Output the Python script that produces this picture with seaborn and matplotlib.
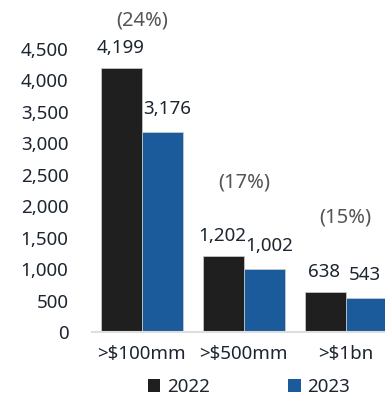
import matplotlib
matplotlib.use("Agg")
import matplotlib.pyplot as plt
import seaborn as sns
import pandas as pd
from matplotlib.patches import Patch

# Deal counts by size threshold
categories = [">$100mm", ">$500mm", ">$1bn"]
years = ["2022", "2023"]
values_2022 = [4199, 1202, 638]
values_2023 = [3176, 1002, 543]
change_labels = ["(24%)", "(17%)", "(15%)"]
y_ticks = [0, 500, 1000, 1500, 2000, 2500, 3000, 3500, 4000, 4500]

colors = {"2022": "#1f1f1f", "2023": "#1b5a9b"}
text_color = "#1c2530"
pct_color = "#555555"

df = pd.DataFrame({
    "category": categories * 2,
    "year": [years[0]] * len(categories) + [years[1]] * len(categories),
    "value": values_2022 + values_2023,
})

sns.set_style("white")
plt.rcParams["font.family"] = ["Noto Sans", "DejaVu Sans"]

W, H = 385, 396
fig = plt.figure(figsize=(W / 100, H / 100), dpi=100)
ax = fig.add_axes([92 / W, 64 / H, 1 - 92 / W, (332 - 49) / H])

sns.barplot(data=df, x="category", y="value", hue="year", order=categories,
            hue_order=years, palette=colors, saturation=1, width=0.8, ax=ax,
            edgecolor="#d0d0d0", linewidth=0.5, legend=False)

ax.set_xlim(-0.49, 2.385)
ax.set_ylim(0, 4500)
ax.set_yticks(y_ticks)
ax.set_yticklabels([f"{v:,}" for v in y_ticks], fontsize=13.5, color=text_color)
ax.tick_params(axis="y", length=0, pad=17)
ax.tick_params(axis="x", length=0, pad=9, labelsize=13.5, labelcolor=text_color)
ax.set_xlabel("")
ax.set_ylabel("")
for side in ["top", "right", "left"]:
    ax.spines[side].set_visible(False)
ax.spines["bottom"].set_color("#dedede")
ax.spines["bottom"].set_linewidth(1.5)

# Value labels above each bar
bar_w = 0.4
for i, (a, b) in enumerate(zip(values_2022, values_2023)):
    ax.annotate(f"{a:,}", (i - bar_w / 2, a), xytext=(-1, 20),
                textcoords="offset pixels", ha="center", va="center",
                fontsize=13.5, color=text_color, annotation_clip=False)
    dx = 5 if i < len(categories) - 1 else -1
    ax.annotate(f"{b:,}", (i + bar_w / 2, b), xytext=(dx, 23),
                textcoords="offset pixels", ha="center", va="center",
                fontsize=13.5, color=text_color, annotation_clip=False)

# Year-over-year change above each group
pct_offsets = [47, 74, 74]
for i, (lab, off) in enumerate(zip(change_labels, pct_offsets)):
    top = max(values_2022[i], values_2023[i])
    ax.annotate(lab, (i, top), xytext=(0, off), textcoords="offset pixels",
                ha="center", va="center", fontsize=14.5, color=pct_color,
                fontweight="light", annotation_clip=False)

handles = [Patch(facecolor=colors[y], edgecolor="none") for y in years]
fig.legend(handles, years, loc="center", bbox_to_anchor=(249 / W, 1 - 387 / H),
           ncol=2, frameon=False, fontsize=13.5, handlelength=0.65,
           handleheight=0.65, handletextpad=0.35, columnspacing=4.2,
           labelcolor=text_color)

fig.savefig("out.png", dpi=100)
